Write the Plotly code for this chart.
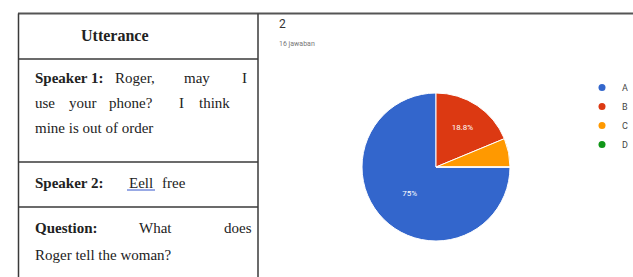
import plotly.graph_objects as go

# ---- data ----
categories = ["A", "B", "C", "D"]
values = [12, 3, 1, 0]
colors = ["#3366CC", "#DC3912", "#FF9900", "#109618"]
question_no = "2"
responses_label = "16 jawaban"

header = "Utterance"
# table rows: (text segments as words/phrases, left px, center y px, bold)
table_words = [
    ("Speaker 1:", 33, 78, True), ("Roger,", 113, 78, False), ("may", 182, 78, False), ("I", 240, 78, False),
    ("use", 33, 103, False), ("your", 67, 103, False), ("phone?", 107, 103, False), ("I", 177, 103, False), ("think", 197, 103, False),
    ("mine is out of order", 33, 128, False),
    ("Speaker 2:", 33, 183, True), ("Eell", 127, 183, False), ("free", 160, 183, False),
    ("Question:", 33, 228, True), ("What", 137, 228, False), ("does", 222, 228, False),
    ("Roger tell the woman?", 33, 255, False),
]

W, H = 633, 277
def px(x):
    return x / W
def py(y):
    return 1 - y / H

total = sum(values)
pct_text = []
for v in values:
    p = 100 * v / total
    pct_text.append((f"{p:.1f}%".replace(".0%", "%")) if p >= 10 else "")

fig = go.Figure()
cx, cy, r = 436, 167, 74
fig.add_trace(go.Pie(
    labels=categories, values=values, sort=False, direction="clockwise", rotation=90,
    marker=dict(colors=colors, line=dict(color="white", width=1)),
    text=pct_text, textinfo="text", textposition="inside",
    insidetextorientation="horizontal",
    textfont=dict(color="white", size=8, family="Roboto, Arial"),
    showlegend=False, hoverinfo="label+percent",
    domain=dict(x=[px(cx - r), px(cx + r)], y=[1 - (cy + r) / H, 1 - (cy - r) / H]),
))
for c, col in zip(categories, colors):
    fig.add_trace(go.Scatter(x=[None], y=[None], mode="markers", name=c,
                             marker=dict(color=col, size=7, symbol="circle")))

shapes = []
line_col = "#3a3a3a"
shapes.append(dict(type="line", xref="paper", yref="paper", x0=px(18), x1=1, y0=py(13.5), y1=py(13.5),
                   line=dict(color="#555555", width=2)))
for xv in (18.5, 258):
    shapes.append(dict(type="line", xref="paper", yref="paper", x0=px(xv), x1=px(xv), y0=py(13.5), y1=0,
                       line=dict(color=line_col, width=1.5)))
for yv in (59, 162, 207):
    shapes.append(dict(type="line", xref="paper", yref="paper", x0=px(18.5), x1=px(258), y0=py(yv), y1=py(yv),
                       line=dict(color=line_col, width=1.5)))
# spell-check style underline under "Eell"
shapes.append(dict(type="line", xref="paper", yref="paper", x0=px(127), x1=px(155), y0=py(190), y1=py(190),
                   line=dict(color="#3355cc", width=1)))

serif = "Liberation Serif, Times New Roman, serif"
ann = [dict(text=f"<b>{header}</b>", x=px(115), y=py(36), xref="paper", yref="paper",
            xanchor="center", yanchor="middle", showarrow=False, font=dict(family=serif, size=16, color="#222"))]
for w, x, y, b in table_words:
    ann.append(dict(text=f"<b>{w}</b>" if b else w, x=px(x), y=py(y), xref="paper", yref="paper",
                    xanchor="left", yanchor="middle", showarrow=False,
                    font=dict(family=serif, size=15, color="#222")))
ann.append(dict(text=question_no, x=px(277), y=py(24), xref="paper", yref="paper", xanchor="left",
                yanchor="middle", showarrow=False, font=dict(family="Roboto, Arial", size=12, color="#333")))
ann.append(dict(text=responses_label, x=px(277), y=py(44), xref="paper", yref="paper", xanchor="left",
                yanchor="middle", showarrow=False, font=dict(family="Roboto, Arial", size=7, color="#777")))

fig.update_layout(
    width=W, height=H, margin=dict(l=0, r=0, t=0, b=0, autoexpand=False),
    paper_bgcolor="white", plot_bgcolor="white",
    xaxis=dict(visible=False), yaxis=dict(visible=False),
    shapes=shapes, annotations=ann,
    legend=dict(x=px(582), y=py(73), xanchor="left", yanchor="top", bgcolor="rgba(0,0,0,0)",
                font=dict(family="Roboto, Arial", size=9, color="#444"),
                tracegroupgap=0),
)
fig.write_html("out.html", config={"displayModeBar": False},
               post_script="document.body.style.margin='0px';document.body.style.overflow='hidden';")
